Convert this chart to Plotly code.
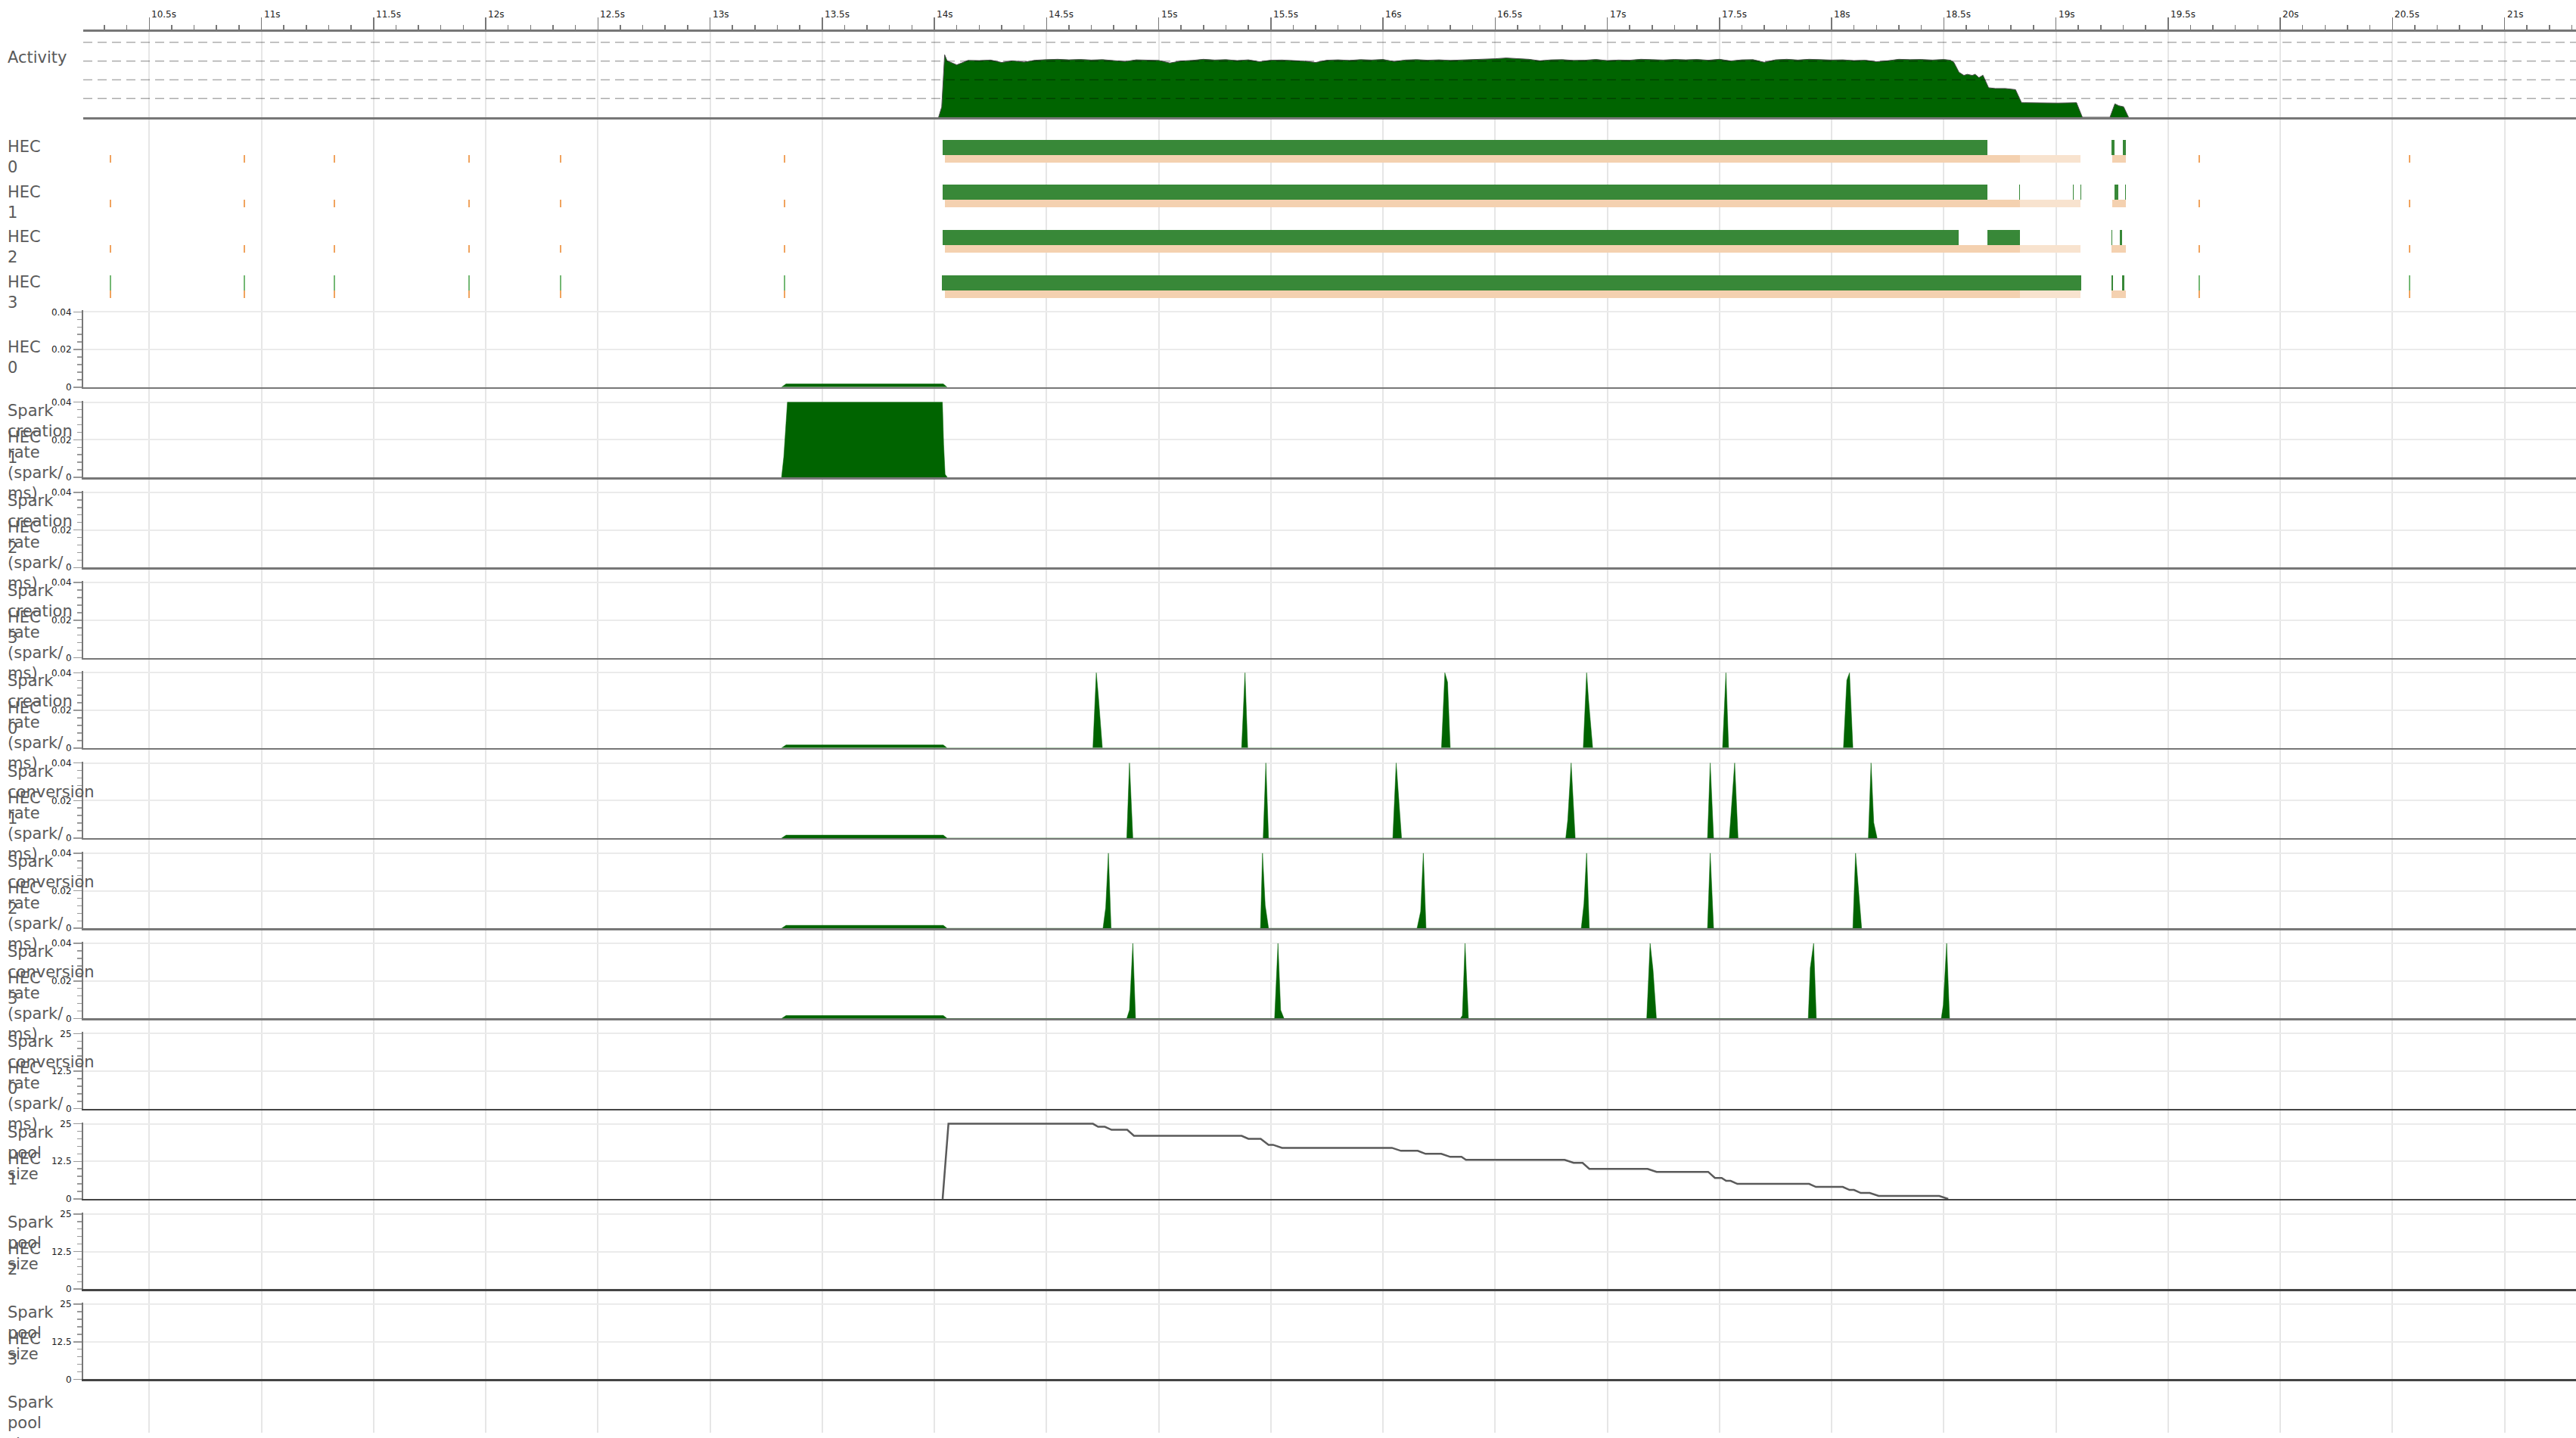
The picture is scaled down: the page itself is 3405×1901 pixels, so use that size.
import plotly.graph_objects as go

W, H = 3405, 1901

# ------------------------------------------------------------------ data
time_range = [10.2057, 21.3187]
major_ticks = [10.5, 11.0, 11.5, 12.0, 12.5, 13.0, 13.5, 14.0, 14.5, 15.0, 15.5,
               16.0, 16.5, 17.0, 17.5, 18.0, 18.5, 19.0, 19.5, 20.0, 20.5, 21.0]
tick_labels = ["10.5s", "11s", "11.5s", "12s", "12.5s", "13s", "13.5s", "14s", "14.5s",
               "15s", "15.5s", "16s", "16.5s", "17s", "17.5s", "18s", "18.5s", "19s",
               "19.5s", "20s", "20.5s", "21s"]

# Activity (number of busy HECs)
activity_t = [14.019, 14.033, 14.046, 14.057,
              14.10, 14.15, 14.20, 14.25, 14.30, 14.35, 14.40, 14.45, 14.50, 14.55,
              14.60, 14.65, 14.70, 14.75, 14.80, 14.85, 14.90, 14.95, 15.00, 15.05,
              15.10, 15.15, 15.20, 15.25, 15.30, 15.35, 15.40, 15.45, 15.50, 15.55,
              15.60, 15.65, 15.70, 15.75, 15.80, 15.85, 15.90, 15.95, 16.00, 16.05,
              16.10, 16.15, 16.20, 16.25, 16.30, 16.35, 16.40, 16.45, 16.50, 16.55,
              16.60, 16.65, 16.70, 16.75, 16.80, 16.85, 16.90, 16.95, 17.00, 17.05,
              17.10, 17.15, 17.20, 17.25, 17.30, 17.35, 17.40, 17.45, 17.50, 17.55,
              17.60, 17.65, 17.70, 17.75, 17.80, 17.85, 17.90, 17.95, 18.00, 18.05,
              18.10, 18.15, 18.20, 18.25, 18.30, 18.35, 18.40, 18.45, 18.50,
              18.53, 18.545, 18.568, 18.59, 18.605, 18.627, 18.64, 18.657, 18.675,
              18.70, 18.73, 18.775, 18.82, 18.847, 18.858, 19.01, 19.092, 19.118,
              19.241, 19.263, 19.28, 19.302, 19.324]
activity_v = [0.0, 0.55, 3.34, 3.02,
              2.80, 3.04, 3.03, 3.06, 2.93, 3.02, 2.95, 3.05, 3.08, 3.10,
              3.07, 3.09, 3.06, 3.08, 3.03, 2.98, 3.07, 3.06, 3.04, 2.90,
              3.01, 3.04, 3.10, 3.06, 3.08, 3.03, 3.07, 2.97, 3.05, 3.06,
              3.04, 3.00, 2.93, 3.05, 3.07, 3.04, 3.08, 3.06, 3.09, 2.98,
              3.06, 3.08, 3.05, 3.07, 3.04, 3.06, 3.08, 3.11, 3.13, 3.17,
              3.14, 3.10, 3.02, 3.07, 3.08, 3.04, 3.05, 3.09, 3.03, 3.06,
              3.05, 3.10, 3.08, 3.06, 3.09, 3.07, 3.09, 3.05, 3.10, 3.01,
              3.07, 3.08, 2.94, 3.07, 3.10, 3.06, 3.10, 3.07, 3.06, 3.07,
              3.03, 3.05, 2.97, 3.02, 3.10, 3.08, 3.09, 3.06, 3.09,
              3.05, 2.94, 2.41, 2.24, 2.30, 2.24, 2.30, 2.12, 2.25,
              1.58, 1.54, 1.54, 1.48, 0.78, 0.78, 0.76, 0.78, 0.0,
              0.0, 0.72, 0.62, 0.56, 0.0]
activity_levels = [1, 2, 3, 4]

# HEC timeline rows: running (green) and GC / other (orange) intervals, seconds
hec_rows = [0, 1, 2, 3]
hec_run_start = [[14.038, 19.248, 19.300],
                 [14.038, 18.835, 19.075, 19.108, 19.263, 19.307],
                 [14.038, 18.694, 19.248, 19.285],
                 [14.034, 19.248, 19.295]]
hec_run_end = [[18.695, 19.263, 19.311],
               [18.695, 18.840, 19.080, 19.113, 19.278, 19.313],
               [18.567, 18.839, 19.252, 19.295],
               [19.113, 19.254, 19.304]]
hec_gc_dense_start = [[14.046, 19.252], [14.046, 19.252], [14.046, 19.248], [14.046, 19.248]]
hec_gc_dense_end = [[18.840, 19.313], [18.840, 19.313], [18.840, 19.313], [18.840, 19.313]]
hec_gc_sparse_start = [[18.840], [18.840], [18.840], [18.840]]
hec_gc_sparse_end = [[19.110], [19.110], [19.110], [19.110]]
event_ticks = [10.324, 10.922, 11.323, 11.924, 12.332, 13.330, 19.636, 20.575]
event_tick_dur = 0.006
event_tick_green_rows = [3]

# Spark panels
rate_ticks = [0, 0.02, 0.04]
rate_tick_text = ["0", "0.02", "0.04"]
pool_ticks = [0, 12.5, 25]
pool_tick_text = ["0", "12.5", "25"]

creation_t = [
    [13.319, 13.339, 14.040, 14.057],
    [13.319, 13.329, 13.345, 14.036, 14.0415, 14.048, 14.058],
    [],
    [],
]
creation_v = [
    [0, 0.0017, 0.0017, 0],
    [0, 0.011, 0.04, 0.04, 0.0176, 0.0016, 0],
    [],
    [],
]

conversion_t = [
    [13.319, 13.339, 14.040, 14.057,
     14.707, 14.722, 14.731, 14.749,
     15.370, 15.385, 15.397,
     16.261, 16.276, 16.288, 16.300,
     16.893, 16.908, 16.917, 16.935,
     17.514, 17.529, 17.541,
     18.053, 18.068, 18.080, 18.095],
    [13.319, 13.339, 14.040, 14.057,
     14.858, 14.870, 14.885,
     15.466, 15.478, 15.490,
     16.044, 16.059, 16.083,
     16.815, 16.824, 16.839, 16.857,
     17.447, 17.459, 17.474,
     17.544, 17.553, 17.568, 17.583,
     18.164, 18.176, 18.188, 18.203],
    [13.319, 13.339, 14.040, 14.057,
     14.752, 14.764, 14.776, 14.788,
     15.454, 15.463, 15.475, 15.490,
     16.152, 16.168, 16.180, 16.192,
     16.884, 16.896, 16.908, 16.920,
     17.447, 17.459, 17.474,
     18.095, 18.107, 18.134],
    [13.319, 13.339, 14.040, 14.057,
     14.858, 14.870, 14.885, 14.897,
     15.517, 15.532, 15.544, 15.559,
     16.345, 16.354, 16.366, 16.381,
     17.176, 17.191, 17.204, 17.219,
     17.896, 17.905, 17.920, 17.932,
     18.489, 18.498, 18.513, 18.526],
]
conversion_v = [
    [0, 0.0016, 0.0016, 0,
     0, 0.04, 0.028, 0,
     0, 0.04, 0,
     0, 0.04, 0.035, 0,
     0, 0.04, 0.025, 0,
     0, 0.04, 0,
     0, 0.036, 0.04, 0],
    [0, 0.0016, 0.0016, 0,
     0, 0.04, 0,
     0, 0.04, 0,
     0, 0.04, 0,
     0, 0.0097, 0.04, 0,
     0, 0.04, 0,
     0, 0.0136, 0.04, 0,
     0, 0.04, 0.0083, 0],
    [0, 0.0016, 0.0016, 0,
     0, 0.011, 0.04, 0,
     0, 0.04, 0.0123, 0,
     0, 0.009, 0.04, 0,
     0, 0.013, 0.04, 0,
     0, 0.04, 0,
     0, 0.04, 0],
    [0, 0.0016, 0.0016, 0,
     0, 0.0045, 0.04, 0,
     0, 0.04, 0.0045, 0,
     0, 0.0016, 0.04, 0,
     0, 0.04, 0.026, 0,
     0, 0.027, 0.04, 0,
     0, 0.0072, 0.04, 0],
]

pool_t = [
    [],
    [14.037, 14.063, 14.707, 14.73, 14.76, 14.79, 14.86, 14.89, 15.37, 15.40, 15.455,
     15.49, 15.51, 15.55, 16.04, 16.08, 16.155, 16.19, 16.26, 16.30, 16.35, 16.37,
     16.81, 16.85, 16.89, 16.92, 17.18, 17.22, 17.45, 17.48, 17.51, 17.53, 17.55,
     17.58, 17.90, 17.93, 18.05, 18.08, 18.10, 18.13, 18.17, 18.21, 18.48, 18.52],
    [],
    [],
]
pool_v = [
    [],
    [0, 25, 25, 24, 24, 23, 23, 21, 21, 20, 20,
     18, 18, 17, 17, 16, 16, 15, 15, 14, 14, 13,
     13, 12, 12, 10, 10, 9, 9, 7, 7, 6, 6,
     5, 5, 4, 4, 3, 3, 2, 2, 1, 1, 0],
    [],
    [],
]

creation_label = "Spark<br>creation<br>rate<br>(spark/<br>ms)"
conversion_label = "Spark<br>conversion<br>rate<br>(spark/<br>ms)"
pool_label = "Spark<br>pool<br>size"

# ------------------------------------------------------------------ style / layout helpers
def py(p):
    return 1 - p / H

def px(p):
    return p / W

X0 = px(110)
GREEN = "#006400"
RUN_GREEN = "#388838"
GC_DENSE = "#f4d1b0"
GC_SPARSE = "#f8e3cf"
TICK_ORANGE = "#f0a35e"
TICK_GREEN = "#74b874"
LABEL_FONT = dict(family="DejaVu Sans", size=21, color="#5a5a5a")
TICK_FONT = dict(family="DejaVu Sans", size=12, color="#222")

# row axis: 60 px per HEC row, row 0 centred at pixel 191
ROW_PX = 60.0
row_top = -(191 - 37) / ROW_PX
row_bottom = row_top + (H - 37) / ROW_PX

fig = go.Figure()

# ---- HEC timeline bars (on background axis x/y)
for r in hec_rows:
    s, e = hec_run_start[r], hec_run_end[r]
    fig.add_trace(go.Bar(orientation="h", y=[r] * len(s), base=s,
                         x=[b - a for a, b in zip(s, e)], width=1 / 3,
                         marker=dict(color=RUN_GREEN, line=dict(width=0)),
                         xaxis="x", yaxis="y", hoverinfo="skip", showlegend=False))
    for starts, ends, col in ((hec_gc_dense_start[r], hec_gc_dense_end[r], GC_DENSE),
                              (hec_gc_sparse_start[r], hec_gc_sparse_end[r], GC_SPARSE)):
        fig.add_trace(go.Bar(orientation="h", y=[r + 0.25] * len(starts), base=starts,
                             x=[b - a for a, b in zip(starts, ends)], width=1 / 6,
                             marker=dict(color=col, line=dict(width=0)),
                             xaxis="x", yaxis="y", hoverinfo="skip", showlegend=False))
    fig.add_trace(go.Bar(orientation="h", y=[r + 0.25] * len(event_ticks), base=event_ticks,
                         x=[event_tick_dur] * len(event_ticks), width=1 / 6,
                         marker=dict(color=TICK_ORANGE, line=dict(width=0)),
                         xaxis="x", yaxis="y", hoverinfo="skip", showlegend=False))
    if r in event_tick_green_rows:
        fig.add_trace(go.Bar(orientation="h", y=[r] * len(event_ticks), base=event_ticks,
                             x=[event_tick_dur] * len(event_ticks), width=1 / 3,
                             marker=dict(color=TICK_GREEN, line=dict(width=0)),
                             xaxis="x", yaxis="y", hoverinfo="skip", showlegend=False))

# ---- activity
fig.add_trace(go.Scatter(x=activity_t, y=activity_v, mode="lines", fill="tozeroy",
                         fillcolor=GREEN, line=dict(color="#4d4d4d", width=1),
                         xaxis="x2", yaxis="y2", hoverinfo="skip", showlegend=False))

# ---- spark panels
panels = []
for h in range(4):
    panels.append(("rate", creation_t[h], creation_v[h], creation_label, h))
for h in range(4):
    panels.append(("rate", conversion_t[h], conversion_v[h], conversion_label, h))
for h in range(4):
    panels.append(("pool", pool_t[h], pool_v[h], pool_label, h))

annotations = []
shapes = []
layout_axes = {}

for k, (kind, ts, vs, lab, h) in enumerate(panels):
    idx = 4 + k
    top = 410 + 120 * k
    bot = 510 + 120 * k
    if kind == "rate":
        ticks, ticktext, ymax, minor_d = rate_ticks, rate_tick_text, 0.04, 0.004
        base_col = "#777"
    else:
        ticks, ticktext, ymax, minor_d = pool_ticks, pool_tick_text, 25, 2.5
        base_col = "#444"
    layout_axes[f"yaxis{idx}"] = dict(
        domain=[py(bot), py(top - 2)], range=[0, ymax * 1.02], anchor=f"x{idx}",
        tickmode="array", tickvals=ticks, ticktext=ticktext, ticks="outside",
        ticklen=11, tickwidth=1.5, tickcolor="#999", tickfont=TICK_FONT,
        minor=dict(tickmode="linear", tick0=0, dtick=minor_d, ticks="outside",
                   ticklen=6, tickwidth=1.5, tickcolor="#999", showgrid=False),
        showgrid=True, gridcolor="#ebebeb", gridwidth=2, zeroline=False,
        showline=True, linecolor="#777", linewidth=2, fixedrange=True)
    layout_axes[f"xaxis{idx}"] = dict(
        matches="x", anchor=f"y{idx}", domain=[X0, 1], showline=True,
        linecolor=base_col, linewidth=2.5, ticks="", showticklabels=False,
        showgrid=False, zeroline=False, layer="below traces")
    if kind == "rate":
        fig.add_trace(go.Scatter(x=ts, y=vs, mode="lines", fill="tozeroy",
                                 fillcolor=GREEN, line=dict(color=GREEN, width=0.5),
                                 xaxis=f"x{idx}", yaxis=f"y{idx}",
                                 hoverinfo="skip", showlegend=False))
    else:
        fig.add_trace(go.Scatter(x=ts, y=vs, mode="lines",
                                 line=dict(color="#5a5a5a", width=2.5),
                                 xaxis=f"x{idx}", yaxis=f"y{idx}",
                                 hoverinfo="skip", showlegend=False))
    annotations.append(dict(text=f"HEC<br>{h}", x=px(8), xref="paper", xanchor="left",
                            y=py(top + 60), yref="paper", yanchor="middle", align="left",
                            showarrow=False, font=LABEL_FONT))
    annotations.append(dict(text=lab, x=px(8), xref="paper", xanchor="left",
                            y=py(top + 117), yref="paper", yanchor="top", align="left",
                            showarrow=False, font=LABEL_FONT))

# ---- left labels for activity and HEC rows
annotations.append(dict(text="Activity", x=px(8), xref="paper", xanchor="left",
                        y=py(71), yref="paper", yanchor="middle", align="left",
                        showarrow=False, font=LABEL_FONT))
for r in hec_rows:
    annotations.append(dict(text=f"HEC<br>{r}", x=px(8), xref="paper", xanchor="left",
                            y=py(204 + ROW_PX * r), yref="paper", yanchor="middle",
                            align="left", showarrow=False, font=LABEL_FONT))

# ---- time tick labels (to the right of each major tick)
for t, lab in zip(major_ticks, tick_labels):
    annotations.append(dict(text=lab, x=t, xref="x", xanchor="left", xshift=1,
                            y=py(14), yref="paper", yanchor="middle",
                            showarrow=False, font=TICK_FONT))

# ---- dashed activity gridlines (drawn over the fill)
for lv in activity_levels:
    shapes.append(dict(type="line", xref="paper", x0=X0, x1=1, yref="y2", y0=lv, y1=lv,
                       line=dict(color="rgba(0,0,0,0.32)", width=1.5, dash="12px,7px"),
                       layer="above"))

fig.update_layout(
    width=W, height=H, autosize=False,
    margin=dict(l=0, r=0, t=0, b=0, pad=0),
    paper_bgcolor="white", plot_bgcolor="rgba(0,0,0,0)",
    barmode="overlay", bargap=0,
    showlegend=False,
    font=dict(family="DejaVu Sans"),
    xaxis=dict(domain=[X0, 1], range=time_range, anchor="y", side="top",
               showline=True, linecolor="#777", linewidth=2.5,
               tickmode="array", tickvals=major_ticks, showticklabels=False,
               ticks="outside", ticklen=16, tickwidth=1.5, tickcolor="#777",
               minor=dict(tickmode="linear", tick0=0, dtick=0.1, ticks="outside",
                          ticklen=6, tickwidth=1.5, tickcolor="#777", showgrid=False),
               showgrid=True, gridcolor="#e6e6e6", gridwidth=2, zeroline=False,
               fixedrange=True),
    yaxis=dict(domain=[0, py(37)], range=[row_bottom, row_top], anchor="x",
               visible=False, fixedrange=True),
    xaxis2=dict(matches="x", anchor="y2", domain=[X0, 1], showline=True,
                linecolor="#777", linewidth=2.5, ticks="", showticklabels=False,
                showgrid=False, zeroline=False, layer="below traces"),
    yaxis2=dict(domain=[py(151), py(37.5)], range=[0, 4.56], anchor="x2",
                showgrid=False, zeroline=False, showticklabels=False, ticks="",
                showline=False, fixedrange=True),
    annotations=annotations,
    shapes=shapes,
)
fig.update_layout(**layout_axes)

fig.write_html("out.html", config={"displayModeBar": False, "staticPlot": True})
